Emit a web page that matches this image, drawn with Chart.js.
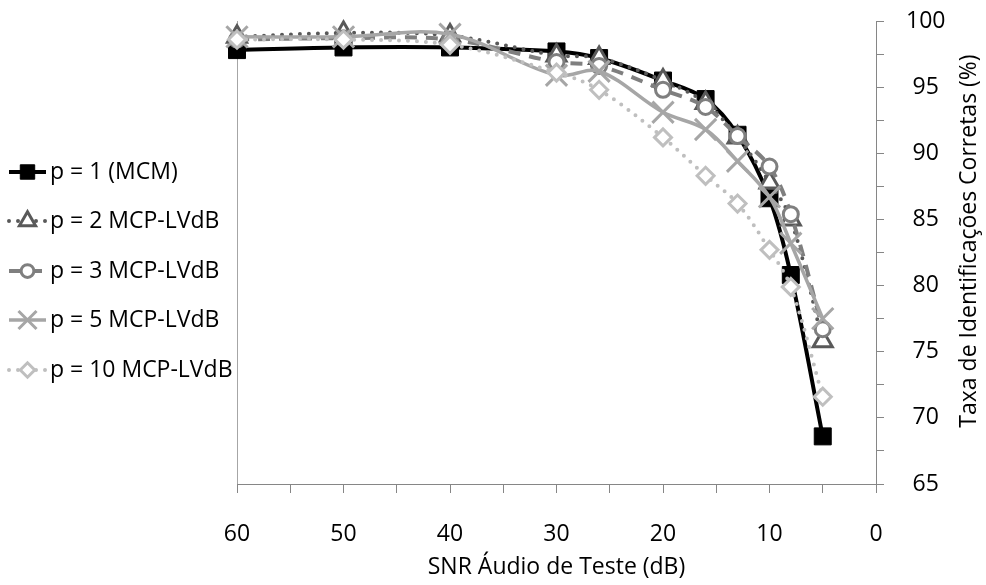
<!DOCTYPE html>
<html><head><meta charset="utf-8">
<script src="https://cdn.jsdelivr.net/npm/chart.js@4"></script>
<style>html,body{margin:0;padding:0;background:#fff}#wrap{width:986px;height:585px}</style>
</head><body><div id="wrap"><canvas id="c" width="986" height="585"></canvas></div>
<script>
const snr = [60, 50, 40, 30, 26, 20, 16, 13, 10, 8, 5];
const p1  = [97.8, 98.0, 98.0, 97.7, 97.2, 95.5, 94.1, 91.4, 86.6, 80.8, 68.6];
const p2  = [98.8, 99.1, 98.9, 97.4, 97.2, 95.5, 93.8, 91.2, 87.8, 85.0, 75.8];
const p3  = [98.6, 98.7, 98.6, 96.9, 96.6, 94.8, 93.5, 91.3, 89.0, 85.4, 76.7];
const p5  = [98.8, 98.8, 99.0, 95.9, 96.2, 93.1, 91.8, 89.4, 86.7, 83.2, 77.5];
const p10 = [98.6, 98.6, 98.2, 96.1, 94.8, 91.2, 88.3, 86.2, 82.7, 79.9, 71.6];
const seriesLabels = ['p = 1 (MCM)', 'p = 2 MCP-LVdB', 'p = 3 MCP-LVdB', 'p = 5 MCP-LVdB', 'p = 10 MCP-LVdB'];
const xTitle = 'SNR Áudio de Teste (dB)';
const yTitle = 'Taxa de Identificações Corretas (%)';

const FONT = '"Open Sans", "DejaVu Sans", sans-serif';
const FS = 23;

function pts(arr){ return snr.map((x,i)=>({x:x, y:arr[i]})); }

const styles = [
  {color:'#000000', bg:'#000000', dash:[], cap:'butt', lw:4, ps:'rect', r:12, bw:1, order:5},
  {color:'#595959', bg:'#ffffff', dash:[0,9], cap:'round', lw:4, ps:'triangle', r:11, bw:3, order:4},
  {color:'#7f7f7f', bg:'#ffffff', dash:[12,9], cap:'butt', lw:4, ps:'circle', r:7.5, bw:3, order:3},
  {color:'#a6a6a6', bg:'#a6a6a6', dash:[], cap:'butt', lw:3.5, ps:'crossRot', r:15, bw:3, order:2},
  {color:'#bfbfbf', bg:'#ffffff', dash:[0,9], cap:'round', lw:4, ps:'rectRot', r:8.5, bw:3, order:1}
];
const seriesData = [p1, p2, p3, p5, p10];

const datasets = seriesData.map((arr,i)=>{
  const s = styles[i];
  return {
    label: seriesLabels[i], data: pts(arr),
    borderColor: s.color, backgroundColor: s.bg, borderWidth: s.lw,
    borderDash: s.dash, borderCapStyle: s.cap, borderJoinStyle:'round',
    pointStyle: s.ps, pointRadius: s.r, pointBorderWidth: s.bw,
    pointBorderColor: s.color, pointBackgroundColor: s.bg, pointHoverRadius: s.r,
    tension: 0.35, fill:false, clip:false, order: s.order
  };
});

const decor = {
  id:'decor',
  beforeDatasetsDraw(chart){
    const {ctx, chartArea:a} = chart;
    ctx.save();
    ctx.strokeStyle = '#a6a6a6'; ctx.lineWidth = 1;
    ctx.beginPath(); ctx.moveTo(a.left+0.5, a.top); ctx.lineTo(a.left+0.5, a.bottom); ctx.stroke();
    ctx.restore();
  },
  afterDraw(chart){
    const {ctx, chartArea:a} = chart;
    ctx.save();
    ctx.font = FS + 'px ' + FONT; ctx.fillStyle = '#000';
    ctx.textAlign = 'center'; ctx.textBaseline = 'middle';
    ctx.translate(969, 241); ctx.rotate(-Math.PI/2);
    ctx.fillText(yTitle, 0, 0);
    ctx.restore();
    const rows = [172, 221, 271, 320, 370];
    seriesLabels.forEach((lab,i)=>{
      const s = styles[i], y = rows[i];
      ctx.save();
      ctx.strokeStyle = s.color; ctx.lineWidth = s.lw; ctx.lineCap = s.cap;
      ctx.setLineDash(s.dash);
      ctx.beginPath(); ctx.moveTo(9, y); ctx.lineTo(46, y); ctx.stroke();
      ctx.setLineDash([]);
      ctx.fillStyle = s.bg; ctx.strokeStyle = s.color; ctx.lineWidth = s.bw;
      Chart.helpers.drawPoint(ctx, {pointStyle:s.ps, radius:s.r*0.85, rotation:0, borderWidth:s.bw}, 27.5, y);
      ctx.fillStyle = '#000'; ctx.font = FS + 'px ' + FONT;
      ctx.textAlign = 'left'; ctx.textBaseline = 'middle';
      ctx.fillText(lab, 50, y);
      ctx.restore();
    });
  }
};

new Chart(document.getElementById('c'), {
  type:'line',
  data:{datasets},
  options:{
    responsive:false, animation:false, devicePixelRatio:1,
    layout:{padding:{left:237, top:21, right:0, bottom:0}},
    plugins:{legend:{display:false}, tooltip:{enabled:false}},
    scales:{
      x:{type:'linear', reverse:true, min:0, max:60, position:'bottom',
        afterFit(s){ s.height = 101; s.paddingLeft = 0; s.paddingRight = 0; },
        ticks:{stepSize:5, autoSkip:false, maxRotation:0, color:'#000', padding:28,
          font:{family:FONT, size:FS}, callback:v=> (v%10===0 ? String(v) : '')},
        grid:{drawOnChartArea:false, drawTicks:true, tickLength:9, color:'#868686'},
        border:{color:'#868686', width:1},
        title:{display:true, text:xTitle, color:'#000', font:{family:FONT, size:FS}, padding:{top:0, bottom:4}}
      },
      y:{type:'linear', position:'right', min:65, max:100,
        afterFit(s){ s.width = 110; s.paddingTop = 0; s.paddingBottom = 0; },
        ticks:{stepSize:2.5, autoSkip:false, color:'#000', padding:22, crossAlign:'center',
          font:{family:FONT, size:FS}, callback:v=> (v%5===0 ? String(v) : '')},
        grid:{drawOnChartArea:false, drawTicks:true, tickLength:8, color:'#868686'},
        border:{color:'#868686', width:1}
      }
    }
  },
  plugins:[decor]
});
</script>
</body></html>
